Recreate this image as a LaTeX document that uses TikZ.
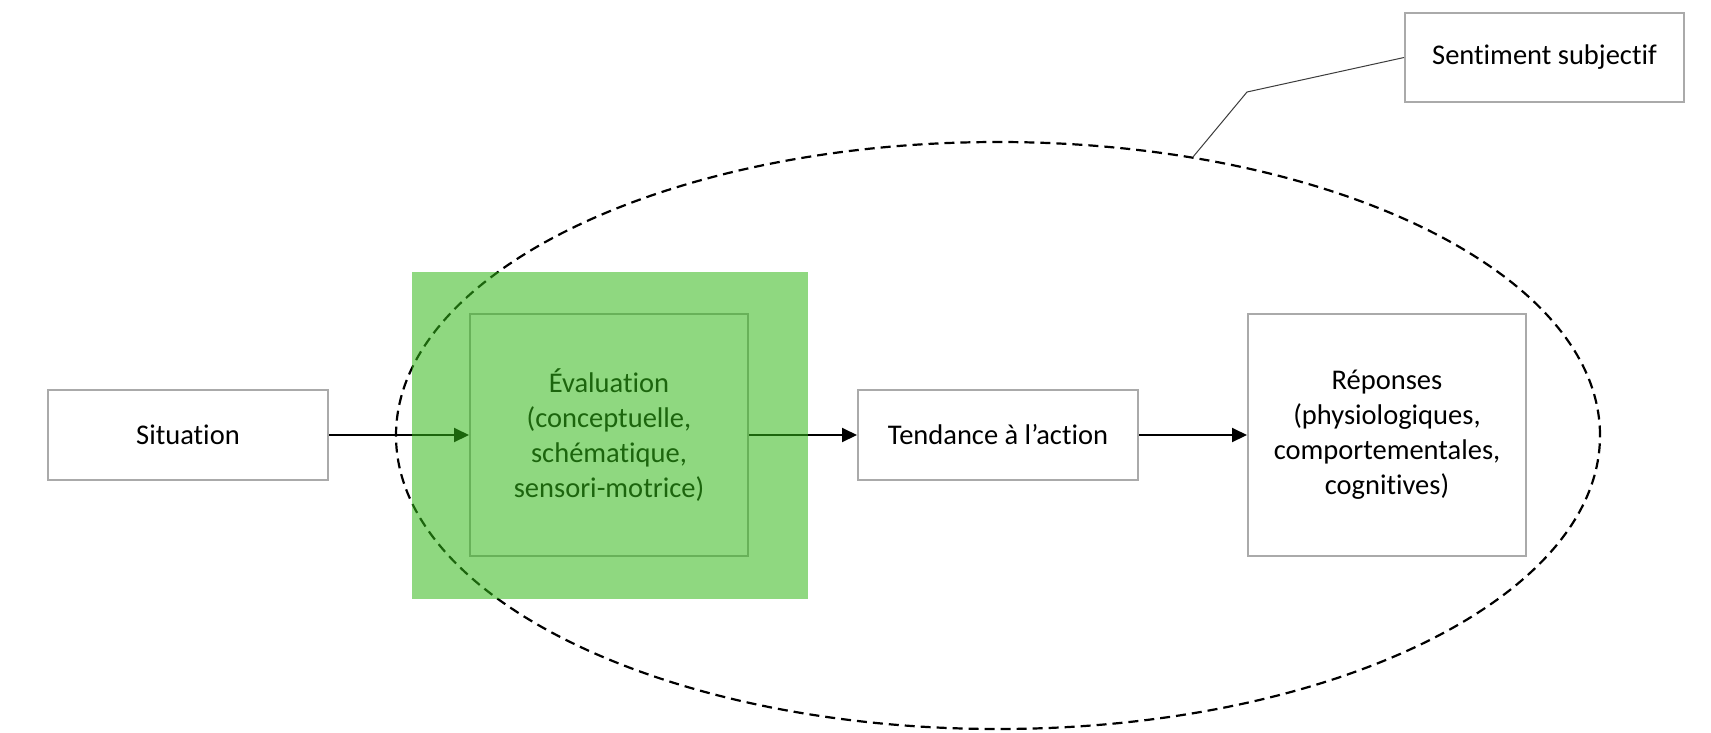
\documentclass[tikz,border=0pt]{standalone}
\usepackage{fontspec}
\setmainfont{Carlito}[Ligatures={NoCommon}]
\usetikzlibrary{arrows.meta,shapes.geometric}
\definecolor{boxgray}{RGB}{170,170,170}
\definecolor{tint}{RGB}{51,184,24}
\definecolor{leadgray}{RGB}{60,60,60}
\begin{document}
\begin{tikzpicture}[x=1pt,y=-1pt,
  box/.style={draw=boxgray,line width=2pt,fill=white,inner sep=0pt,
    align=center,font=\fontsize{28.5}{35}\selectfont},
  flow/.style={line width=2pt,-{Triangle[length=15pt,width=14pt]}},
  scope/.style={draw,line width=2.2pt,dash pattern=on 10pt off 6pt,
    ellipse,inner sep=0pt,minimum width=1204pt,minimum height=587pt},
  leader/.style={draw=leadgray,line width=1pt},
  tintbox/.style={fill=tint,fill opacity=0.55,inner sep=0pt,
    minimum width=396pt,minimum height=327pt}]
  % page
  \fill[white] (0,0) rectangle (1711,732);
  \useasboundingbox (0,0) rectangle (1711,732);

  % scope of the emotion
  \node[scope] (emo) at (998,435.5) {};

  % process boxes
  \node[box,minimum width=280pt,minimum height=90pt] (sit) at (188,435) {Situation};
  \node[box,minimum width=278pt,minimum height=242pt] (eval) at (609,435)
    {Évaluation\\(conceptuelle,\\schématique,\\sensori-motrice)};
  \node[box,minimum width=280pt,minimum height=90pt] (tend) at (998,435) {Tendance à l’action};
  \node[box,minimum width=278pt,minimum height=242pt] (resp) at (1387,435)
    {Réponses\\(physiologiques,\\comportementales,\\cognitives)};
  \node[box,minimum width=279pt,minimum height=89pt] (sent) at (1544.5,57.5) {Sentiment subjectif};

  % flow
  \draw[flow] (sit.east) -- (eval.west);
  \draw[flow] (eval.east) -- (tend.west);
  \draw[flow] (tend.east) -- (resp.west);

  % callout to the ellipse
  \coordinate (bend) at (1247,92);
  \draw[leader] (sent.west) -- (bend) -- (emo.55);

  % highlight over the appraisal step
  \node[tintbox] (hl) at (610,435.5) {};
\end{tikzpicture}
\end{document}
